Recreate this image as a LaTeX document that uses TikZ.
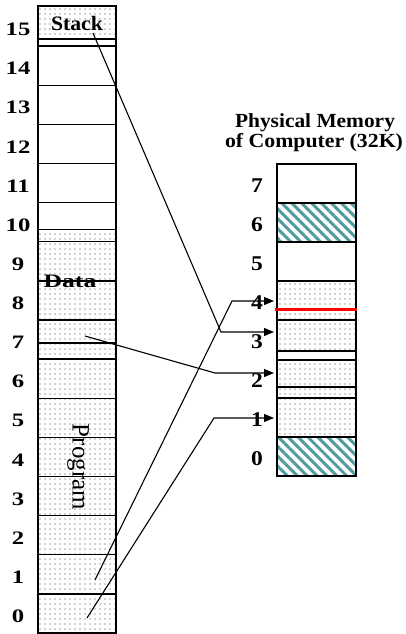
\documentclass[tikz,border=0pt]{standalone}
\usepackage{fontspec}
\setmainfont{Liberation Serif}
\usepackage{graphicx}
\usetikzlibrary{patterns.meta,arrows.meta}
\definecolor{hatchteal}{RGB}{80,155,155}
\definecolor{dotgray}{RGB}{60,60,60}
\begin{document}
\begin{tikzpicture}[x=1pt,y=-1pt,
  dotfill/.style={pattern={Dots[distance=5pt,radius=0.7pt]},pattern color=dotgray},
  hatchfill/.style={pattern={Lines[angle=-45,distance=7pt,line width=3pt]},pattern color=hatchteal},
  cellline/.style={line width=1.3pt},
  rline/.style={line width=1.8pt},
  conn/.style={line width=1.1pt},
  arr/.style={conn,-{Triangle[length=10pt,width=8pt]}},
  leftlab/.style={font=\fontsize{19}{19}\selectfont\bfseries, anchor=base, inner sep=0pt},
  rightlab/.style={font=\fontsize{21}{21}\selectfont\bfseries, anchor=base, inner sep=0pt},
  titlelab/.style={font=\fontsize{20}{20}\selectfont\bfseries, anchor=base, inner sep=0pt},
  ]
\useasboundingbox (0,0) rectangle (406,634);

% ---------- left column (virtual address space) ----------
\fill[dotfill] (38,6) rectangle (116,39);
\fill[dotfill] (38,229) rectangle (116,633);
\foreach \k in {1,...,15}{
  \draw[cellline] (38,{633-39.125*\k}) -- (116,{633-39.125*\k});
}
\draw[line width=1.2pt] (38,39) -- (116,39);
\draw[line width=0.8pt] (38,229) -- (116,229);
\draw[line width=1.6pt] (38,6) rectangle (116,633);
\draw[line width=2.5pt] (116,343) -- (38,343) -- (38,633) -- (116,633);

\foreach \i in {0,...,15}{
  \node[leftlab] (v\i) at (18,{633-39.125*\i-10.5}) {\scalebox{1.3}[1]{\i}};
}
\node[font=\fontsize{20.5}{20.5}\selectfont\bfseries, anchor=base, inner sep=0pt] (stack) at (77,31) {\scalebox{1.06}[1]{Stack}};
\node[font=\fontsize{19}{19}\selectfont\bfseries, anchor=base, inner sep=0pt] (data) at (70,287) {\scalebox{1.35}[1]{Data}};
\node[font=\fontsize{25}{25}\selectfont, rotate=-90, inner sep=0pt] (prog) at (78,467) {Program};

% ---------- right column (physical memory) ----------
\node[titlelab] (t1) at (315,127) {\scalebox{1.07}[1]{Physical Memory}};
\node[titlelab] (t2) at (314,147) {\scalebox{1.09}[1]{of Computer (32K)}};

\fill[hatchfill] (277,203) rectangle (356,242);
\fill[dotfill] (277,281) rectangle (356,351);
\fill[dotfill] (277,360) rectangle (356,437);
\fill[hatchfill] (277,437) rectangle (356,476);
\foreach \y in {203,242,281,320,351,360,387,398,437}{
  \draw[rline] (277,\y) -- (356,\y);
}
\draw[rline] (277,164) rectangle (356,476);
\draw[red, line width=3pt] (275,309) -- (357,309);

\foreach \i in {0,...,7}{
  \node[rightlab] (f\i) at (257,{476-39*\i-10.5}) {\scalebox{1.12}[1]{\i}};
}

% ---------- connectors ----------
\coordinate (stk) at (93,33);
\coordinate (d7) at (85,336);
\coordinate (pg1) at (95,580);
\coordinate (pg0) at (87,618);
\coordinate (k3) at (221,332);
\coordinate (k4) at (232,301);
\coordinate (k2) at (215,373);
\coordinate (k1) at (214,418);
\coordinate (e3) at (274,332);
\coordinate (e4) at (274,301);
\coordinate (e2) at (274,373);
\coordinate (e1) at (274,418);

\draw[arr] (stk) -- (k3) -- (e3);
\draw[arr] (pg1) -- (k4) -- (e4);
\draw[arr] (d7) -- (k2) -- (e2);
\draw[arr] (pg0) -- (k1) -- (e1);
\end{tikzpicture}
\end{document}
